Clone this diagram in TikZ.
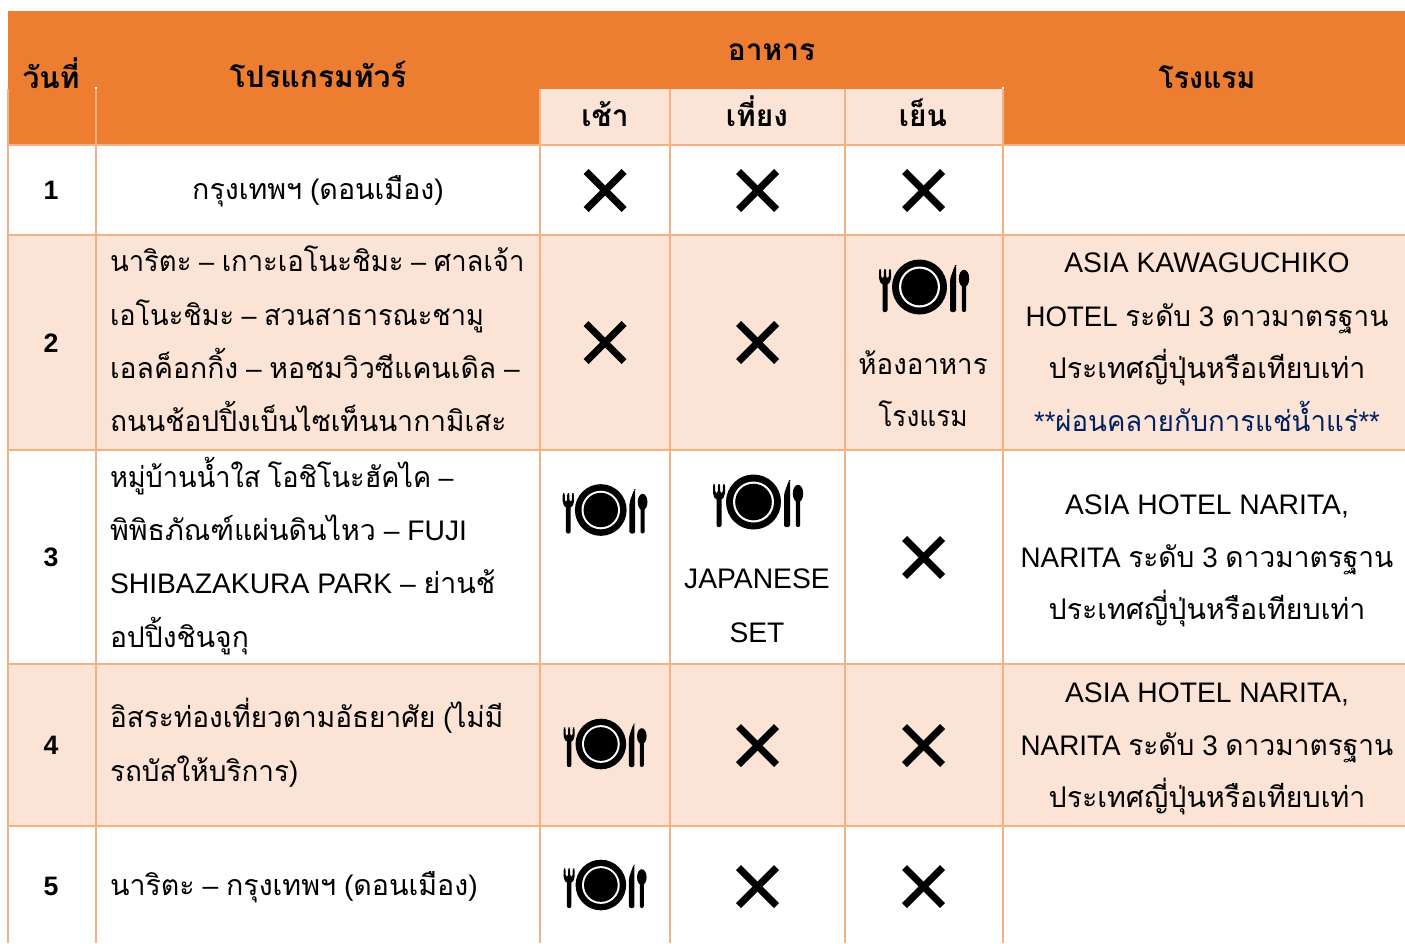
\documentclass[tikz,border=0pt]{standalone}
\usepackage{fontspec}
\usepackage{graphicx}
\setmainfont{Liberation Sans}
\newfontfamily\thaifont[Script=Thai,Scale=1.01]{Loma}
\newcommand{\T}[1]{{\thaifont #1}}
\newcommand{\fitx}[2]{\scalebox{#1}[1]{#2}}
\definecolor{headorange}{HTML}{ED7D31}
\definecolor{lightorange}{HTML}{FBE4D5}
\definecolor{gridorange}{HTML}{F4B183}
\definecolor{noteblue}{HTML}{002060}
\tikzset{
  x=0.75pt,y=-0.75pt,
  gridline/.style={draw=gridorange,line width=1.5pt},
  cell/.style={inner sep=0pt,outer sep=0pt,font=\fontsize{21.2}{21}\selectfont},
  ctext/.style={cell,anchor=base},
  ltext/.style={cell,anchor=base west},
  headtext/.style={cell,anchor=base,font=\fontsize{22.2}{23}\selectfont\bfseries},
  daytext/.style={cell,anchor=base,font=\fontsize{20}{20}\selectfont\bfseries},
  crossline/.style={draw=black,line width=5.3pt},
}
\newcommand{\crossat}[2]{%
  \draw[crossline] (#1-19,#2-19) -- (#1+19,#2+19);
  \draw[crossline] (#1-19,#2+19) -- (#1+19,#2-19);}
\newcommand{\dishat}[3]{%
  \begin{scope}[shift={(#1,#2)},scale=#3]
    \fill[black] (-4.5,0) circle[radius=27.5];
    \fill[white] (-4.5,0) circle[radius=20.5];
    \fill[black] (-4.5,0) circle[radius=18.3];
    % fork
    \fill[black,rounded corners=1.5] (-41.5,-5) rectangle (-36.5,25);
    \fill[black,rounded corners=1.5] (-45,-18) -- (-42.8,-18) -- (-42.8,-9) -- (-40.2,-9) -- (-40.2,-18) -- (-37.8,-18) -- (-37.8,-9) -- (-35.2,-9) -- (-35.2,-18) -- (-33,-18) -- (-33,-7) -- (-36,-2) -- (-42,-2) -- (-45,-7) -- cycle;
    % knife
    \fill[black,rounded corners=1.5] (26,25) -- (26,-8) -- (31,-22) -- (32,-22) -- (32,25) -- cycle;
    % spoon
    \fill[black] (40,-8.5) ellipse[x radius=5.2,y radius=8.7];
    \fill[black,rounded corners=1.5] (37.8,-6) rectangle (42.2,25);
  \end{scope}}
\begin{document}
\begin{tikzpicture}
\useasboundingbox (0,0) rectangle (1405,943);
% backgrounds
\fill[white] (0,0) rectangle (1405,943);
\fill[headorange] (8,11) rectangle (1405,145);
\fill[lightorange] (540,89) rectangle (1003,145);
\fill[lightorange] (8,235) rectangle (1405,450);
\fill[lightorange] (8,664) rectangle (1405,826);
% grid
\draw[gridline] (8,89) -- (8,943);
\draw[gridline] (96,89) -- (96,943);
\draw[gridline] (540,89) -- (540,943);
\draw[gridline] (670,89) -- (670,943);
\draw[gridline] (845,89) -- (845,943);
\draw[gridline] (1003,89) -- (1003,943);
\foreach \yy in {145,235,450,664,826}{\draw[gridline] (8,\yy) -- (1405,\yy);}
\fill[white] (95,87) rectangle (97,89);
\fill[white] (1002,87) rectangle (1004,89);
% header
\node[headtext] (hday) at (51,88) {\T{วันที่}};
\node[headtext] (hprog) at (318,87) {\T{โปรแกรมทัวร์}};
\node[headtext] (hfood) at (771.5,60) {\T{อาหาร}};
\node[headtext] (hbreak) at (605,126) {\T{เช้า}};
\node[headtext] (hlunch) at (757,126) {\T{เที่ยง}};
\node[headtext] (hdinner) at (923,126) {\T{เย็น}};
\node[headtext] (hhotel) at (1207,88) {\fitx{0.95}{\T{โรงแรม}}};
% days
\node[daytext] (d1) at (51,199) {1};
\node[daytext] (d2) at (51,352) {2};
\node[daytext] (d3) at (51,566) {3};
\node[daytext] (d4) at (51,754) {4};
\node[daytext] (d5) at (51,895) {5};
% programme
\node[ctext] (p1) at (318,199) {\T{กรุงเทพฯ} (\T{ดอนเมือง})};
\node[ltext] (p2a) at (110,271) {\fitx{0.962}{\T{นาริตะ} – \T{เกาะเอโนะชิมะ} – \T{ศาลเจ้า}}};
\node[ltext] (p2b) at (110,325) {\fitx{0.951}{\T{เอโนะชิมะ} – \T{สวนสาธารณะชามู}}};
\node[ltext] (p2c) at (110,378) {\fitx{0.993}{\T{เอลค็อกกิ้ง} – \T{หอชมวิวซีแคนเดิล} –}};
\node[ltext] (p2d) at (110,431) {\fitx{0.985}{\T{ถนนช้อปปิ้งเบ็นไซเท็นนากามิเสะ}}};
\node[ltext] (p3a) at (110,487) {\fitx{0.95}{\T{หมู่บ้านน้ำใส} \T{โอชิโนะฮัคไค} –}};
\node[ltext] (p3b) at (110,540) {\T{พิพิธภัณฑ์แผ่นดินไหว} – FUJI};
\node[ltext] (p3c) at (110,593) {SHIBAZAKURA PARK – \T{ย่านช้}};
\node[ltext] (p3d) at (110,647) {\fitx{0.99}{\T{อปปิ้งชินจูกุ}}};
\node[ltext] (p4a) at (110,727) {\fitx{0.98}{\T{อิสระท่องเที่ยวตามอัธยาศัย} (\T{ไม่มี}}};
\node[ltext] (p4b) at (110,781) {\fitx{0.979}{\T{รถบัสให้บริการ})}};
\node[ltext] (p5) at (110,895) {\T{นาริตะ} – \T{กรุงเทพฯ} (\T{ดอนเมือง})};
% meals
\crossat{605}{190.5}\crossat{757.5}{190.5}\crossat{923.5}{190.5}
\crossat{605}{342.5}\crossat{757.5}{342.5}
\dishat{924}{287}{1}
\node[ctext] (m2a) at (923,374) {\fitx{0.97}{\T{ห้องอาหาร}}};
\node[ctext] (m2b) at (923,426) {\fitx{0.92}{\T{โรงแรม}}};
\dishat{605}{510}{0.94}
\dishat{758}{502}{1}
\node[ctext] (m3a) at (757,588) {JAPANESE};
\node[ctext] (m3b) at (757,642) {SET};
\crossat{923.5}{557.5}
\dishat{605}{744}{0.92}
\crossat{757.5}{745.5}\crossat{923.5}{745.5}
\dishat{605}{885}{0.92}
\crossat{757.5}{886.5}\crossat{923.5}{886.5}
% hotels
\node[ctext] (h2a) at (1207,272) {ASIA KAWAGUCHIKO};
\node[ctext] (h2b) at (1207,326) {\fitx{0.976}{HOTEL \T{ระดับ} 3 \T{ดาวมาตรฐาน}}};
\node[ctext] (h2c) at (1207,378) {\T{ประเทศญี่ปุ่นหรือเทียบเท่า}};
\node[ctext,text=noteblue] (h2d) at (1207,431) {\fitx{0.966}{**\T{ผ่อนคลายกับการแช่น้ำแร่}**}};
\node[ctext] (h3a) at (1207,514) {ASIA HOTEL NARITA,};
\node[ctext] (h3b) at (1207,567) {\fitx{0.984}{NARITA \T{ระดับ} 3 \T{ดาวมาตรฐาน}}};
\node[ctext] (h3c) at (1207,619) {\T{ประเทศญี่ปุ่นหรือเทียบเท่า}};
\node[ctext] (h4a) at (1207,702) {ASIA HOTEL NARITA,};
\node[ctext] (h4b) at (1207,755) {\fitx{0.984}{NARITA \T{ระดับ} 3 \T{ดาวมาตรฐาน}}};
\node[ctext] (h4c) at (1207,807) {\T{ประเทศญี่ปุ่นหรือเทียบเท่า}};
\end{tikzpicture}
\end{document}
